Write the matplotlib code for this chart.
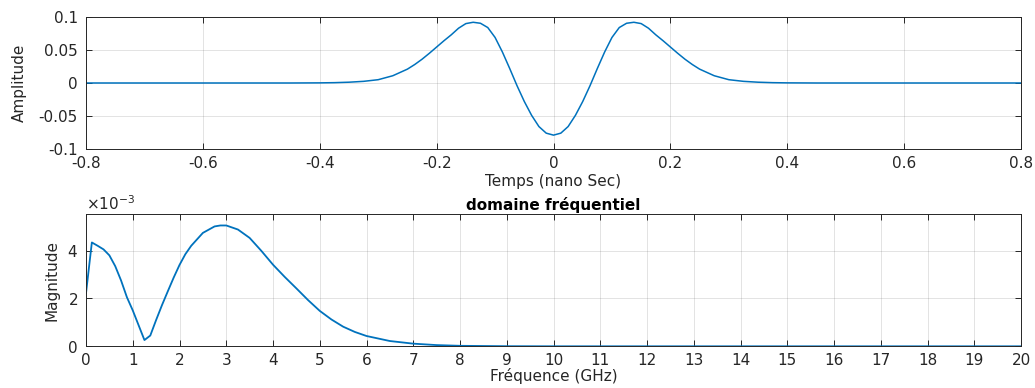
import numpy as np
import matplotlib
matplotlib.use("Agg")
import matplotlib.pyplot as plt
from matplotlib.ticker import ScalarFormatter

# Time-domain pulse
t_ns = [-0.8, -0.45, -0.4, -0.375, -0.35, -0.325, -0.3, -0.275, -0.25,
        -0.2375, -0.225, -0.2125, -0.2, -0.1875, -0.175, -0.1625, -0.15,
        -0.1375, -0.125, -0.1125, -0.1, -0.0875, -0.075, -0.0625, -0.05,
        -0.0375, -0.025, -0.0125, 0.0, 0.0125, 0.025, 0.0375, 0.05, 0.0625,
        0.075, 0.0875, 0.1, 0.1125, 0.125, 0.1375, 0.15, 0.1625, 0.175,
        0.1875, 0.2, 0.2125, 0.225, 0.2375, 0.25, 0.275, 0.3, 0.325, 0.35,
        0.375, 0.4, 0.45, 0.8]
amplitude = [0.0, 0.0, 0.0002, 0.0005, 0.0012, 0.0025, 0.005, 0.011, 0.021,
             0.028, 0.036, 0.045, 0.0545, 0.064, 0.073, 0.083, 0.090,
             0.092, 0.0905, 0.084, 0.069, 0.047, 0.022, -0.004, -0.028,
             -0.049, -0.066, -0.076, -0.079, -0.076, -0.066, -0.049, -0.028, -0.004,
             0.022, 0.047, 0.069, 0.084, 0.0905, 0.092, 0.090, 0.083, 0.073,
             0.064, 0.0545, 0.045, 0.036, 0.028, 0.021, 0.011, 0.005, 0.0025, 0.0012,
             0.0005, 0.0002, 0.0, 0.0]
t_ticks = [-0.8, -0.6, -0.4, -0.2, 0, 0.2, 0.4, 0.6, 0.8]
t_labels = ['-0.8', '-0.6', '-0.4', '-0.2', '0', '0.2', '0.4', '0.6', '0.8']
amp_ticks = [-0.1, -0.05, 0, 0.05, 0.1]
amp_labels = ['-0.1', '-0.05', '0', '0.05', '0.1']

# Spectrum magnitude (x1e-3)
freq_ghz = [0, 0.125, 0.25, 0.375, 0.5, 0.625, 0.75, 0.875, 1.0, 1.125, 1.25,
            1.375, 1.5, 1.625, 1.75, 1.875, 2.0, 2.125, 2.25, 2.5, 2.75, 2.875,
            3.0, 3.25, 3.5, 3.75, 4.0, 4.25, 4.5, 4.75, 5.0, 5.25, 5.5, 5.75,
            6.0, 6.5, 7.0, 7.5, 8.0, 9.0, 10.0, 20.0]
magnitude_e3 = [2.22, 4.34, 4.2, 4.05, 3.8, 3.35, 2.75, 2.05, 1.5, 0.88, 0.26,
                0.45, 1.1, 1.72, 2.3, 2.87, 3.4, 3.85, 4.2, 4.74, 5.01, 5.05,
                5.05, 4.88, 4.53, 3.99, 3.41, 2.9, 2.42, 1.93, 1.48, 1.12, 0.82, 0.6,
                0.43, 0.22, 0.11, 0.05, 0.02, 0.004, 0.0, 0.0]
freq_ticks = list(range(0, 21))

plt.rcParams['font.family'] = ['DejaVu Sans']
plt.rcParams['axes.unicode_minus'] = False

line_col = '#0072BD'
ax_col = '#262626'
fs = 11

fig = plt.figure(figsize=(10.35, 3.88), dpi=100)
ax1 = fig.add_axes([0.0831, 0.616, 0.9034, 0.3402])
ax2 = fig.add_axes([0.0831, 0.1075, 0.9034, 0.341])

for ax in (ax1, ax2):
    ax.grid(True, color=ax_col, alpha=0.15, linewidth=0.6)
    ax.set_axisbelow(True)
    ax.tick_params(direction='in', top=True, right=True, length=4, width=0.7,
                   color=ax_col, labelcolor=ax_col, labelsize=fs)
    ax.tick_params(axis='x', pad=5)
    ax.tick_params(axis='y', pad=6)
    for s in ax.spines.values():
        s.set_color(ax_col)
        s.set_linewidth(0.7)

ax1.plot(t_ns, amplitude, color=line_col, linewidth=1.1)
ax1.set_xlim(-0.8, 0.8)
ax1.set_ylim(-0.1, 0.1)
ax1.set_xticks(t_ticks)
ax1.set_xticklabels(t_labels)
ax1.set_yticks(amp_ticks)
ax1.set_yticklabels(amp_labels)
ax1.set_xlabel('Temps (nano Sec)', fontsize=fs, color=ax_col, labelpad=2)
ax1.set_ylabel('Amplitude', fontsize=fs, color=ax_col, labelpad=8)

mag = np.array(magnitude_e3) * 1e-3
ax2.plot(freq_ghz, mag, color=line_col, linewidth=1.3)
ax2.set_xlim(0, 20)
ax2.set_ylim(0, 5.53e-3)
ax2.set_xticks(freq_ticks)
ax2.set_yticks([0, 2e-3, 4e-3])
fmt = ScalarFormatter(useMathText=True)
fmt.set_powerlimits((-2, 2))
ax2.yaxis.set_major_formatter(fmt)
ax2.yaxis.get_offset_text().set_fontsize(fs)
ax2.yaxis.get_offset_text().set_color(ax_col)
ax2.set_xlabel('Fréquence (GHz)', fontsize=fs, color=ax_col, labelpad=0)
ax2.set_ylabel('Magnitude', fontsize=fs, color=ax_col, labelpad=5)
ax2.set_title('domaine fréquentiel', fontsize=fs, fontweight='bold', pad=3)

fig.savefig('out.png', dpi=100)
